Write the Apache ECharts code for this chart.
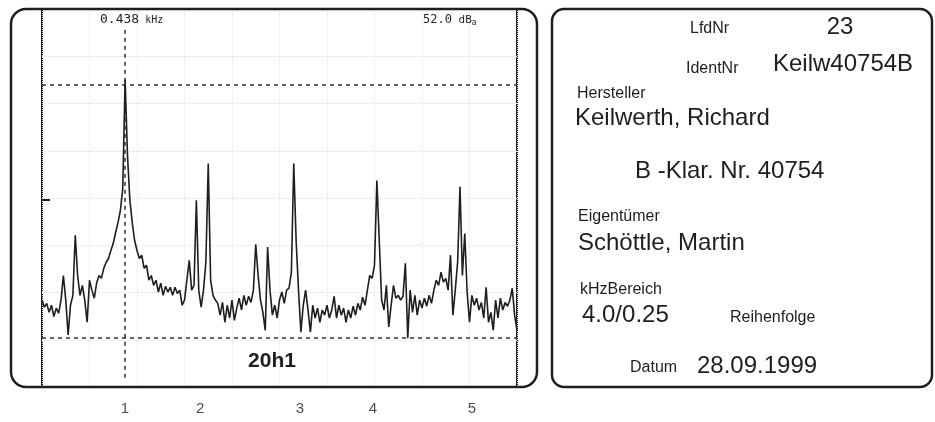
<!DOCTYPE html>
<html><head><meta charset="utf-8">
<script src="https://cdn.jsdelivr.net/npm/echarts@6/dist/echarts.min.js"></script>
<style>html,body{margin:0;padding:0;background:#fff}#c{width:935px;height:422px}</style>
</head><body><div id="c"></div>
<script>
// ---- data ----
const freqStepKHz = 0.0125;          // spacing of spectrum samples (kHz)
const spanKHz = 2.5;                 // displayed span
const levels = [
18.4,16.9,17.7,15.8,17.3,14.9,16.7,15.6,18.4,23.6,
18.4,11.0,17.3,19.4,32.1,23.6,19.4,21.5,18.4,13.7,
22.6,20.5,18.8,22.0,23.6,23.0,25.1,26.4,27.2,28.9,
30.4,32.7,34.8,37.4,42.0,65.0,49.0,39.5,34.8,31.0,
28.9,27.2,27.9,25.1,25.8,22.6,23.6,21.5,22.6,20.1,
22.0,19.4,21.3,20.1,21.1,19.4,21.1,19.8,20.5,17.3,
18.4,22.6,26.8,20.5,21.5,39.5,20.5,16.9,20.5,26.4,
47.3,22.6,19.4,18.4,17.7,15.2,17.9,13.7,17.3,14.6,
18.4,14.1,16.7,18.8,16.3,19.4,17.3,19.2,17.9,20.5,
30.2,23.6,18.4,15.8,12.0,29.6,20.5,15.2,17.3,14.6,
18.4,20.1,17.7,20.5,20.9,24.3,47.3,31.0,20.5,11.6,
17.3,20.5,16.3,11.6,17.3,14.6,16.7,13.7,16.3,15.2,
17.3,14.6,16.3,19.2,14.6,17.3,15.2,16.7,13.7,16.3,
14.6,17.1,15.2,17.7,16.3,19.0,17.3,20.5,23.6,23.0,
25.8,43.7,31.0,18.4,16.3,21.5,12.7,17.3,21.5,18.8,
19.4,18.4,19.2,26.2,10.3,20.5,15.8,19.4,15.2,18.4,
16.7,18.8,17.1,19.4,17.7,20.5,22.6,21.5,24.3,22.2,
23.0,20.5,27.9,15.2,20.5,26.4,42.4,23.6,32.5,20.1,
13.7,19.4,17.3,18.8,16.3,17.9,14.6,21.1,13.7,15.8,
12.0,18.4,14.6,18.8,16.3,17.9,17.1,18.4,20.9,15.2,
12.0
];
const harmonicLabels = ['1','2','3','4','5'];
const harmonicLabelKHz = [0.437, 0.832, 1.358, 1.742, 2.263];
const markerKHz = 0.4375;
const markerFreqText = '0.438';
const markerLevelText = '52.0';
const refLineLevels = [63.9, 10.4];
const refTickLevel = 39.6;
const noteText = '20h1';
const infoLabels = ['LfdNr','IdentNr','Hersteller','Eigentümer','kHzBereich','Reihenfolge','Datum'];
const infoValues = ['23','Keilw40754B','Keilwerth, Richard','B -Klar. Nr. 40754','Schöttle, Martin','4.0/0.25','28.09.1999'];

// ---- chart ----
const ink = '#1e1e1e';
const sans = '"Liberation Sans", Arial, sans-serif';
const spectrum = levels.map((v, i) => [i * freqStepKHz, v]);
const dashStyle = {color: '#333', width: 1.5, type: [4, 4]};

const chart = echarts.init(document.getElementById('c'), null, {renderer: 'canvas'});
chart.setOption({
  animation: false,
  backgroundColor: '#fff',
  grid: {left: 42, right: 418, top: 9, bottom: 35, show: true, borderColor: ink, borderWidth: 2, backgroundColor: 'transparent'},
  xAxis: {type: 'value', min: 0, max: spanKHz, interval: 0.25,
    axisLine: {show: false}, axisTick: {show: false}, axisLabel: {show: false},
    splitLine: {show: true, lineStyle: {color: '#e2e2e2', type: 'dotted', width: 1}}},
  yAxis: {type: 'value', min: 0, max: 80, interval: 10,
    axisLine: {show: false}, axisTick: {show: false}, axisLabel: {show: false},
    splitLine: {show: true, lineStyle: {color: '#e2e2e2', type: 'dotted', width: 1}}},
  series: [
    {type: 'line', data: spectrum, showSymbol: false, symbol: 'none', clip: true,
     lineStyle: {color: ink, width: 1.6}, z: 5,
     markLine: {silent: true, symbol: 'none', label: {show: false},
       data: [
         [{coord: [0, refLineLevels[0]], lineStyle: dashStyle}, {coord: [spanKHz, refLineLevels[0]]}],
         [{coord: [0, refLineLevels[1]], lineStyle: dashStyle}, {coord: [spanKHz, refLineLevels[1]]}],
         [{coord: [markerKHz, 75.6], lineStyle: dashStyle}, {coord: [markerKHz, 1.9]}],
         [{coord: [0, refTickLevel], lineStyle: {color: ink, width: 2, type: 'solid'}}, {coord: [0.042, refTickLevel]}]
       ]}},
    {type: 'scatter', data: harmonicLabelKHz.map((f, i) => ({value: [f, 0], name: harmonicLabels[i]})),
     symbolSize: 0, clip: false, silent: true,
     label: {show: true, position: 'bottom', distance: 14, formatter: p => p.name,
       color: ink, fontSize: 15, fontFamily: sans}}
  ],
  graphic: [
    {type: 'rect', shape: {x: 11, y: 9, width: 526, height: 378, r: 15}, style: {fill: 'none', stroke: ink, lineWidth: 2.5}, z: 10},
    {type: 'rect', shape: {x: 552, y: 9, width: 380, height: 378, r: 12}, style: {fill: 'none', stroke: ink, lineWidth: 2.5}, z: 10},
    {type: 'text', x: 100, y: 20, style: {text: '{a|' + markerFreqText + '}{b| kHz}', verticalAlign: 'middle',
       rich: {a: {fontFamily: '"DejaVu Sans Mono", monospace', fontSize: 13, fill: ink}, b: {fontFamily: '"DejaVu Sans Mono", monospace', fontSize: 10, fill: ink}}}, z: 10},
    {type: 'text', x: 423, y: 20, style: {text: '{a|' + markerLevelText + '}{b| dB}{c|a}', verticalAlign: 'middle',
       rich: {a: {fontFamily: '"DejaVu Sans Mono", monospace', fontSize: 12, fill: ink}, b: {fontFamily: '"DejaVu Sans Mono", monospace', fontSize: 11, fill: ink}, c: {fontFamily: '"DejaVu Sans Mono", monospace', fontSize: 8, fill: ink, padding: [5, 0, 0, 0]}}}, z: 10},
    {type: 'text', x: 272, y: 361, style: {text: noteText, align: 'center', verticalAlign: 'middle', font: 'bold 21px ' + sans, fill: ink}, z: 10},
    // info panel
    {type: 'text', x: 690, y: 29, style: {text: infoLabels[0], verticalAlign: 'middle', font: '16px ' + sans, fill: ink}},
    {type: 'text', x: 840, y: 27, style: {text: infoValues[0], align: 'center', verticalAlign: 'middle', font: '24px ' + sans, fill: ink}},
    {type: 'text', x: 686, y: 69, style: {text: infoLabels[1], verticalAlign: 'middle', font: '16px ' + sans, fill: ink}},
    {type: 'text', x: 773, y: 64, style: {text: infoValues[1], verticalAlign: 'middle', font: '24px ' + sans, fill: ink}},
    {type: 'text', x: 577, y: 94, style: {text: infoLabels[2], verticalAlign: 'middle', font: '16px ' + sans, fill: ink}},
    {type: 'text', x: 575, y: 118, style: {text: infoValues[2], verticalAlign: 'middle', font: '24px ' + sans, fill: ink}},
    {type: 'text', x: 635, y: 171, style: {text: infoValues[3], verticalAlign: 'middle', font: '24px ' + sans, fill: ink}},
    {type: 'text', x: 578, y: 217, style: {text: infoLabels[3], verticalAlign: 'middle', font: '16px ' + sans, fill: ink}},
    {type: 'text', x: 578, y: 243, style: {text: infoValues[4], verticalAlign: 'middle', font: '24px ' + sans, fill: ink}},
    {type: 'text', x: 580, y: 290, style: {text: infoLabels[4], verticalAlign: 'middle', font: '16px ' + sans, fill: ink}},
    {type: 'text', x: 582, y: 315, style: {text: infoValues[5], verticalAlign: 'middle', font: '24px ' + sans, fill: ink}},
    {type: 'text', x: 730, y: 318, style: {text: infoLabels[5], verticalAlign: 'middle', font: '16px ' + sans, fill: ink}},
    {type: 'text', x: 630, y: 368, style: {text: infoLabels[6], verticalAlign: 'middle', font: '16px ' + sans, fill: ink}},
    {type: 'text', x: 697, y: 366, style: {text: infoValues[6], verticalAlign: 'middle', font: '24px ' + sans, fill: ink}}
  ]
});
</script></body></html>
